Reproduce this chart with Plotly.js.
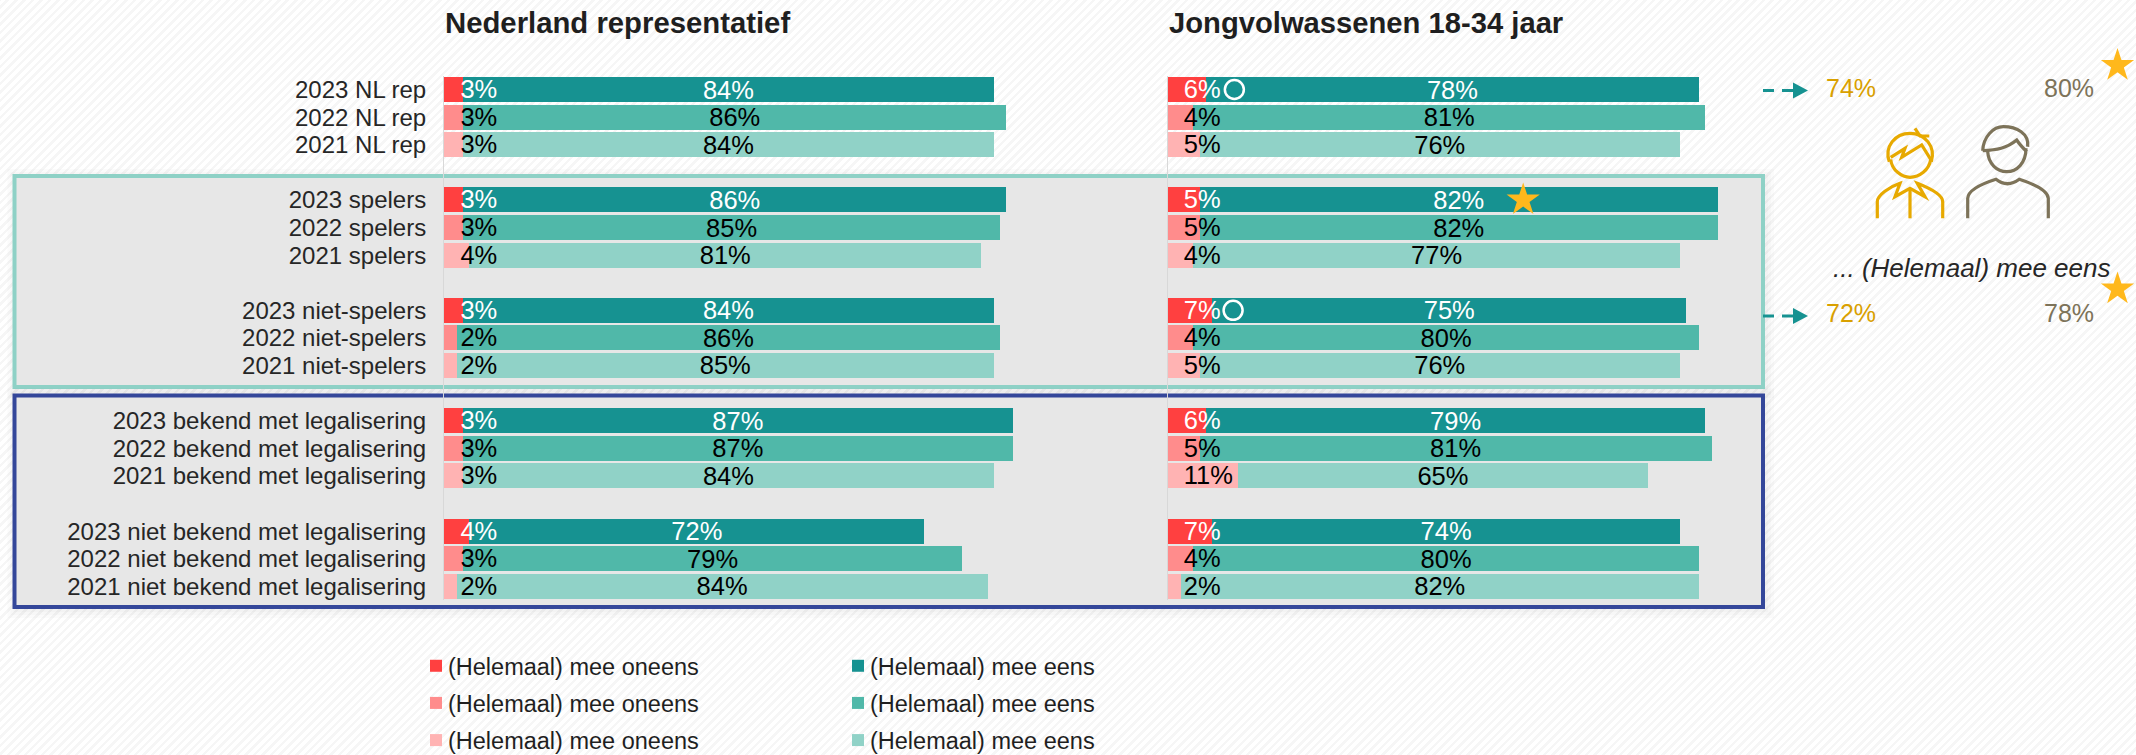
<!DOCTYPE html>
<html><head><meta charset="utf-8">
<script src="https://cdn.plot.ly/plotly-3.0.1.min.js"></script>
<style>
html,body{margin:0;padding:0;width:2136px;height:755px;overflow:hidden;
background:repeating-linear-gradient(-45deg,#ffffff 0 3.5px,#f6f6f6 3.5px 6px);}
</style></head><body><div id="chart" style="width:2136px;height:755px"></div>
<script>
// ---------- data ----------
const categories = ["2023 NL rep","2022 NL rep","2021 NL rep","2023 spelers","2022 spelers","2021 spelers",
 "2023 niet-spelers","2022 niet-spelers","2021 niet-spelers","2023 bekend met legalisering","2022 bekend met legalisering",
 "2021 bekend met legalisering","2023 niet bekend met legalisering","2022 niet bekend met legalisering","2021 niet bekend met legalisering"];
const rowPos = [0,1,2, 4,5,6, 8,9,10, 12,13,14, 16,17,18];
const nlOneens = [3,3,3, 3,3,4, 3,2,2, 3,3,3, 4,3,2];
const nlEens   = [84,86,84, 86,85,81, 84,86,85, 87,87,84, 72,79,84];
const jvOneens = [6,4,5, 5,5,4, 7,4,5, 6,5,11, 7,4,2];
const jvEens   = [78,81,76, 82,82,77, 75,80,76, 79,81,65, 74,80,82];
const redShades  = ["#ff4040","#ff8c8c","#ffb3b3"];
const tealShades = ["#169291","#50b8a9","#90d2c7"];
const labelInk   = ["#ffffff","#000000","#000000"];
const legendOneens = "(Helemaal) mee oneens";
const legendEens   = "(Helemaal) mee eens";

// ---------- page geometry helpers ----------
const W=2136,H=755, PXPCT=6.32;
const fx=p=>p/W, fy=p=>1-p/H;
const FONT='"Liberation Sans",Arial,sans-serif';
const pathPx=s=>s.replace(/(-?[\d.]+),(-?[\d.]+)/g,(m,a,b)=>fx(+a).toFixed(6)+','+fy(+b).toFixed(6));
const pRect=(x0,y0,x1,y1,o)=>Object.assign({type:'rect',xref:'paper',yref:'paper',x0:fx(x0),x1:fx(x1),y0:fy(y0),y1:fy(y1),layer:'below'},o);
const pPath=(d,color,w)=>({type:'path',xref:'paper',yref:'paper',path:pathPx(d),line:{color:color,width:w},layer:'above'});
const pLine=(x0,y0,x1,y1,color,w)=>({type:'line',xref:'paper',yref:'paper',x0:fx(x0),x1:fx(x1),y0:fy(y0),y1:fy(y1),line:{color:color,width:w},layer:'above'});

// ---------- traces ----------
const traces=[];
function panel(oneens,eens,xa,ya,lx,showLeg){
  [0,1,2].forEach(yr=>{
    const idx=rowPos.map((_,i)=>i).filter(i=>i%3===yr);
    traces.push({type:'bar',orientation:'h',xaxis:xa,yaxis:ya,width:0.905,
      name:legendOneens,legend:'legend',legendgroup:'o'+yr,showlegend:showLeg,
      y:idx.map(i=>rowPos[i]),x:idx.map(i=>oneens[i]),
      marker:{color:redShades[yr],line:{width:0}},hoverinfo:'skip'});
  });
  [0,1,2].forEach(yr=>{
    const idx=rowPos.map((_,i)=>i).filter(i=>i%3===yr);
    traces.push({type:'bar',orientation:'h',xaxis:xa,yaxis:ya,width:0.905,
      name:legendEens,legend:'legend2',legendgroup:'e'+yr,showlegend:showLeg,
      y:idx.map(i=>rowPos[i]),x:idx.map(i=>eens[i]),
      text:idx.map(i=>eens[i]+'%'),textposition:'inside',insidetextanchor:'middle',textangle:0,constraintext:'none',
      textfont:{family:FONT,size:25.5,color:labelInk[yr]},
      marker:{color:tealShades[yr],line:{width:0}},hoverinfo:'skip'});
  });
  [0,1,2].forEach(yr=>{
    const idx=rowPos.map((_,i)=>i).filter(i=>i%3===yr);
    traces.push({type:'scatter',mode:'text',xaxis:xa,yaxis:ya,showlegend:false,cliponaxis:false,
      y:idx.map(i=>rowPos[i]+0.08),x:idx.map(()=>lx),
      text:idx.map(i=>oneens[i]+'%'),textposition:'middle right',
      textfont:{family:FONT,size:25.5,color:labelInk[yr]},hoverinfo:'skip'});
  });
}
panel(nlOneens,nlEens,'x','y',2.6,true);
panel(jvOneens,jvEens,'x2','y2',2.5,false);

// significance markers in the young-adult panel
traces.push({type:'scatter',mode:'markers',xaxis:'x2',yaxis:'y2',showlegend:false,cliponaxis:false,
  x:[10.5,10.3],y:[0,8],marker:{symbol:'circle-open',size:19,color:'#ffffff',line:{width:2.5,color:'#ffffff'}},hoverinfo:'skip'});
traces.push({type:'scatter',mode:'markers',xaxis:'x2',yaxis:'y2',showlegend:false,cliponaxis:false,
  x:[56.2],y:[4],marker:{symbol:'star',size:25,color:'#ffb81c',line:{width:0}},hoverinfo:'skip'});
// outer stars sit on a page-sized hidden axis pair
traces.push({type:'scatter',mode:'markers',xaxis:'x3',yaxis:'y3',showlegend:false,cliponaxis:false,
  x:[2117.5,2117.5],y:[65.5,289],marker:{symbol:'star',size:25,color:'#ffb81c',line:{width:0}},hoverinfo:'skip'});

// ---------- decoration ----------
const shapes=[];
[[14.5,176,1763,387,'#8ed1c6'],[14.5,395.5,1763,607,'#34479a']].forEach(b=>{
  [9,6,3].forEach(g=>shapes.push(pRect(b[0]-g+2,b[1]-g+2,b[2]+g+2,b[3]+g+2,{fillcolor:'rgba(0,0,0,0.014)',line:{width:0}})));
  shapes.push(pRect(b[0],b[1],b[2],b[3],{fillcolor:'#e7e7e7',line:{color:b[4],width:4}}));
});
// arrows
[90.5,316].forEach(y=>{
  shapes.push(pLine(1763,y,1774,y,'#169291',3));
  shapes.push(pLine(1782,y,1794,y,'#169291',3));
  shapes.push({type:'path',xref:'paper',yref:'paper',layer:'above',line:{width:0},fillcolor:'#169291',
    path:pathPx(`M1793,${y-8}L1808,${y}L1793,${y+8}Z`)});
});
// figure icons
const Z=(a,b)=>(1860+a/3).toFixed(1)+','+(120+b/3).toFixed(1);
const gold='#e7a900', taupe='#7d7359';
shapes.push(pPath(`M${Z(92,118)}C${Z(95,150)} ${Z(125,172)} ${Z(150,172)}C${Z(178,172)} ${Z(208,150)} ${Z(212,118)}`,gold,3.2));
shapes.push(pPath(`M${Z(88,125)}C${Z(72,80)} ${Z(105,40)} ${Z(150,40)}C${Z(195,40)} ${Z(228,80)} ${Z(214,125)}`,gold,3.2));
shapes.push(pPath(`M${Z(92,112)}L${Z(135,85)}L${Z(125,112)}L${Z(185,75)}L${Z(212,118)}`,gold,3.2));
shapes.push(pPath(`M${Z(165,25)}L${Z(180,48)}L${Z(208,48)}`,gold,3.2));
shapes.push(pPath(`M${Z(52,295)}L${Z(52,245)}C${Z(52,225)} ${Z(90,200)} ${Z(120,190)}L${Z(105,230)}L${Z(150,205)}L${Z(195,230)}L${Z(172,190)}C${Z(210,205)} ${Z(248,225)} ${Z(248,245)}L${Z(248,295)}`,gold,3.2));
shapes.push(pPath(`M${Z(150,205)}L${Z(150,295)}`,gold,3.2));
shapes.push(pPath(`M${Z(383,95)}C${Z(385,130)} ${Z(410,155)} ${Z(440,155)}C${Z(470,155)} ${Z(498,130)} ${Z(498,85)}`,taupe,3.2));
shapes.push(pPath(`M${Z(368,92)}C${Z(370,50)} ${Z(400,20)} ${Z(430,20)}C${Z(470,20)} ${Z(508,40)} ${Z(503,80)}`,taupe,3.2));
shapes.push(pPath(`M${Z(368,92)}C${Z(410,90)} ${Z(440,85)} ${Z(470,60)}C${Z(480,75)} ${Z(495,90)} ${Z(500,95)}`,taupe,3.2));
shapes.push(pPath(`M${Z(323,295)}L${Z(323,235)}C${Z(325,210)} ${Z(370,190)} ${Z(408,178)}C${Z(430,195)} ${Z(455,195)} ${Z(478,178)}C${Z(515,190)} ${Z(563,210)} ${Z(565,235)}L${Z(565,295)}`,taupe,3.2));

const note=(x,y,text,size,color,extra)=>Object.assign({xref:'paper',yref:'paper',x:fx(x),y:fy(y),text:text,showarrow:false,
  xanchor:'left',yanchor:'middle',borderpad:0,font:{family:FONT,size:size,color:color}},extra||{});
const annotations=[
  note(444,23,'<b>Nederland representatief</b>',29.3,'#1f1f1f'),
  note(1168,23,'<b>Jongvolwassenen 18-34 jaar</b>',29.2,'#1f1f1f'),
  note(1825,88,'74%',25,'#d9a000'),note(2043,88,'80%',25,'#7d7359'),
  note(1825,313,'72%',25,'#d9a000'),note(2043,313,'78%',25,'#7d7359'),
  note(1832,268,'<i>... (Helemaal) mee eens</i>',26,'#262626')
];

const yBase={range:[18.5,-0.5],domain:[fy(600.1),fy(75.7)],showgrid:false,zeroline:false,ticks:'',
  showline:true,linecolor:'#d8d8d8',linewidth:1,fixedrange:true};
const legendBase=o=>Object.assign({orientation:'v',xanchor:'left',yanchor:'top',bgcolor:'rgba(0,0,0,0)',borderwidth:0,
  traceorder:'grouped',tracegroupgap:3.6,itemclick:false,itemdoubleclick:false,
  font:{family:FONT,size:23.5,color:'#1f1f1f'}},o);
const layout={
  width:W,height:H,autosize:false,margin:{l:0,r:0,t:0,b:0,autoexpand:false},
  paper_bgcolor:'rgba(0,0,0,0)',plot_bgcolor:'rgba(0,0,0,0)',barmode:'stack',bargap:0.1,showlegend:true,
  xaxis:{domain:[fx(444),fx(1076)],range:[0,100],visible:false,fixedrange:true},
  xaxis2:{domain:[fx(1168),1],range:[0,968/PXPCT],visible:false,fixedrange:true},
  xaxis3:{domain:[0,1],range:[0,W],visible:false,fixedrange:true,anchor:'y3'},
  yaxis:Object.assign({},yBase,{anchor:'x',tickmode:'array',tickvals:rowPos,ticktext:categories,ticklabelstandoff:12,
    tickfont:{family:FONT,size:24,color:'#262626'}}),
  yaxis2:Object.assign({},yBase,{anchor:'x2',showticklabels:false}),
  yaxis3:{domain:[0,1],range:[H,0],visible:false,fixedrange:true,anchor:'x3'},
  legend:legendBase({x:fx(408),y:fy(644)}),
  legend2:legendBase({x:fx(830),y:fy(644)}),
  shapes:shapes,annotations:annotations
};
Plotly.newPlot('chart',traces,layout,{displayModeBar:false}).then(gd=>{
  // bring the legend swatches next to their text, as in the reference
  gd.querySelectorAll('.legendsymbols').forEach(n=>n.setAttribute('transform','translate(8,0)'));
});
</script></body></html>
